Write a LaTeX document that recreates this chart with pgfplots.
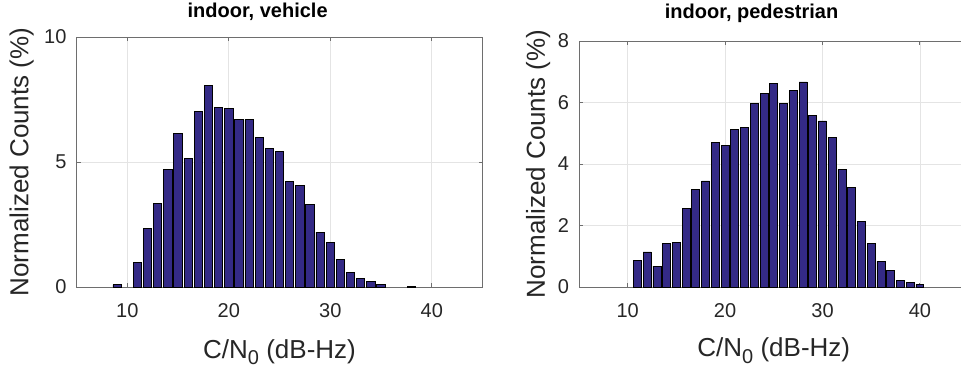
\documentclass[border=0pt]{standalone}
\usepackage{pgfplots}
\pgfplotsset{compat=1.18}
\usepackage{fontspec}
\setmainfont{Liberation Sans}
\definecolor{barfill}{RGB}{52,42,134}
\definecolor{axgray}{RGB}{110,110,110}
\definecolor{tickcol}{RGB}{38,38,38}
\definecolor{gridcol}{RGB}{228,228,228}

\pgfplotstableread{
x y
9 0.09
11 1.00
12 2.36
13 3.33
14 4.69
15 6.13
16 5.15
17 7.01
18 8.07
19 7.19
20 7.14
21 6.71
22 6.71
23 6.00
24 5.56
25 5.41
26 4.22
27 4.06
28 3.29
29 2.20
30 1.78
31 1.11
32 0.58
33 0.36
34 0.23
35 0.09
38 0.02
}\vehicle

\pgfplotstableread{
x y
11 0.87
12 1.14
13 0.68
14 1.43
15 1.45
16 2.55
17 3.17
18 3.45
19 4.70
20 4.61
21 5.13
22 5.19
23 5.98
24 6.30
25 6.63
26 5.98
27 6.40
28 6.67
29 5.59
30 5.40
31 4.87
32 3.82
33 3.23
34 2.14
35 1.42
36 0.83
37 0.53
38 0.22
39 0.14
40 0.08
}\pedestrian

\pgfplotsset{
  mystyle/.style={
    scale only axis,
    anchor=south west,
    xmin=5, xmax=45,
    ymin=0,
    xtick={10,20,30,40},
    grid=major,
    major grid style={gridcol, line width=0.6pt},
    axis line style={axgray, line width=0.75pt},
    tick style={axgray, line width=0.75pt},
    tick align=inside,
    major tick length=3pt,
    every tick label/.append style={font=\fontsize{15}{18}\selectfont, text=tickcol},
    /pgf/number format/assume math mode=true,
    xticklabel style={anchor=base, yshift=-22.5pt},
    yticklabel style={xshift=-4pt},
    xlabel={C/N\raisebox{-0.45ex}{\fontsize{15}{18}\selectfont 0} (dB-Hz)},
    xlabel style={font=\fontsize{19.5}{23}\selectfont, text=tickcol, at={(axis description cs:0.5,-0.284)}, anchor=base},
    ylabel={Normalized Counts (\%)},
    ylabel style={font=\fontsize{19.5}{23}\selectfont, text=tickcol, anchor=center, rotate=0},
    title style={font=\fontsize{15}{18}\selectfont\bfseries, anchor=base},
    axis background/.style={fill=white},
  },
  mybars/.style={ybar, bar width=0.82, bar shift=0pt, fill=barfill, draw=black, line width=0.6pt},
}

\begin{document}
\begin{tikzpicture}
\begin{axis}[mystyle,
  at={(57.4pt,61.5pt)},
  width=304.5pt, height=187.5pt,
  ymax=10, ytick={0,5,10},
  ylabel style={at={(axis description cs:-0.135,0.5)}},
  title={indoor, vehicle},
  title style={at={(axis description cs:0.446,1.045)}},
]
\addplot[mybars] table[x=x,y=y]{\vehicle};
\end{axis}
\begin{axis}[mystyle,
  at={(434.25pt,61.5pt)},
  width=292.2pt, height=184.5pt,
  ymax=8, ytick={0,2,4,6,8},
  ylabel style={at={(axis description cs:-0.105,0.5)}},
  title={indoor, pedestrian},
  title style={at={(axis description cs:0.443,1.057)}},
]
\addplot[mybars] table[x=x,y=y]{\pedestrian};
\end{axis}
\pgfresetboundingbox
\path[use as bounding box] (0,0) rectangle (720.75pt,276.75pt);
\end{tikzpicture}
\end{document}
